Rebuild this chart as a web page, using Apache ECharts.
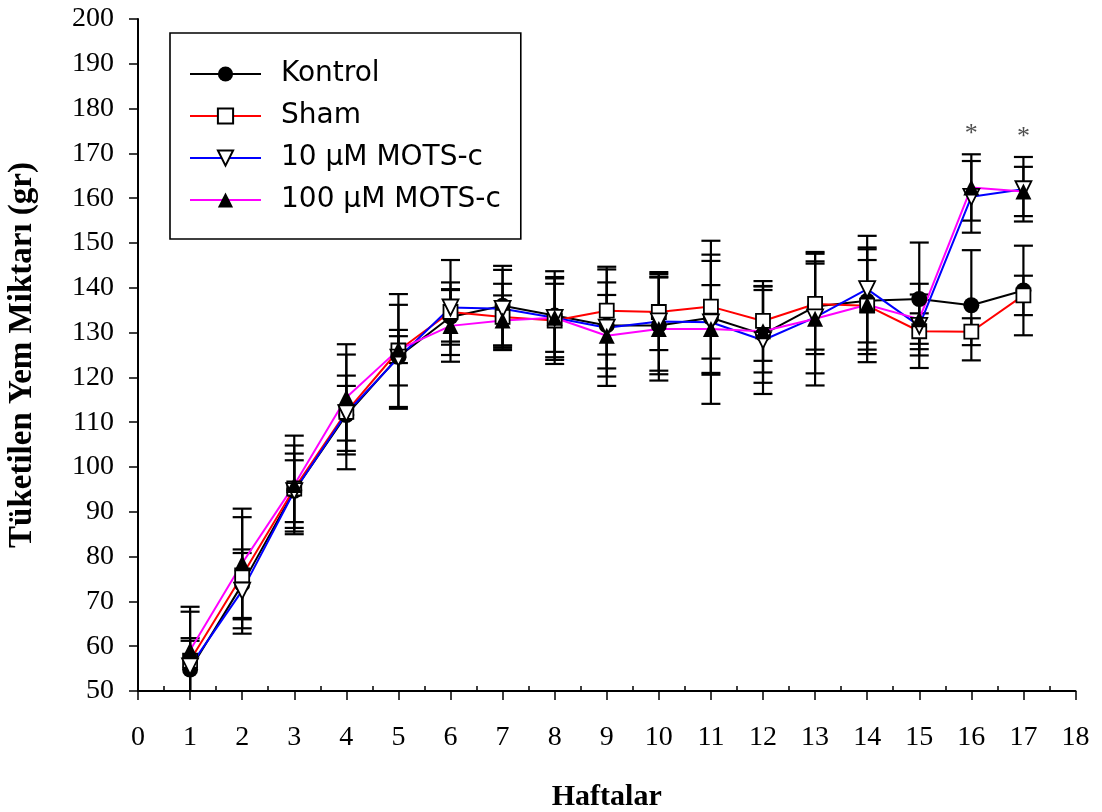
<!DOCTYPE html>
<html>
<head>
<meta charset="utf-8">
<script src="https://cdn.jsdelivr.net/npm/echarts@6/dist/echarts.min.js"></script>
<style>html,body{margin:0;padding:0;background:#fff}#c{width:1102px;height:812px}</style>
</head>
<body>
<div id="c"></div>
<script>
const weeks = [1,2,3,4,5,6,7,8,9,10,11,12,13,14,15,16,17];
const seriesNames = ['Kontrol', 'Sham', '10 µM MOTS-c', '100 µM MOTS-c'];
const kontrol    = [54.8, 73.8, 94.7, 111.6, 124.6, 133.5, 136.0, 133.8, 131.6, 131.6, 133.3, 129.6, 135.8, 137.1, 137.5, 136.1, 139.4];
const kontrolErr = [7.0, 7.8, 8.3, 8.8, 11.6, 6.2, 8.9, 9.9, 9.6, 10.9, 12.7, 10.8, 9.6, 11.9, 12.6, 12.3, 10.0];
const sham       = [56.8, 75.8, 95.2, 112.3, 126.0, 134.6, 133.5, 132.7, 134.9, 134.6, 135.8, 132.6, 136.4, 136.0, 130.3, 130.2, 138.3];
const shamErr    = [10.9, 13.0, 9.6, 12.8, 12.6, 6.6, 7.4, 9.7, 9.8, 8.5, 11.6, 8.9, 11.2, 12.6, 4.0, 3.0, 4.4];
const mots10     = [55.5, 72.4, 94.6, 112.0, 124.4, 135.6, 135.3, 133.3, 131.1, 132.5, 132.3, 128.3, 133.4, 139.7, 131.5, 160.3, 162.0];
const mots10Err  = [5.7, 8.4, 6.9, 6.1, 6.2, 10.6, 8.7, 7.6, 13.0, 11.0, 18.2, 12.0, 12.5, 11.9, 9.4, 8.0, 7.2];
const mots100    = [59.1, 78.5, 96.0, 115.5, 126.2, 131.5, 132.7, 133.3, 129.3, 130.8, 130.8, 130.3, 133.1, 136.2, 133.0, 162.4, 161.5];
const mots100Err = [9.7, 12.2, 11.0, 11.9, 3.0, 8.0, 5.6, 8.8, 9.1, 11.5, 9.8, 9.2, 14.9, 10.0, 5.5, 7.4, 5.5];
const asteriskWeeks = [16, 17];
const asteriskY = [174.3, 173.6];
const xTicks = [0,1,2,3,4,5,6,7,8,9,10,11,12,13,14,15,16,17,18];
const xMinorTicks = [0.5,1.5,2.5,3.5,4.5,5.5,6.5,7.5,8.5,9.5,10.5,11.5,12.5,13.5,14.5,15.5,16.5,17.5];
const yMin = 50, yMax = 200, yStep = 10;

const means = [kontrol, sham, mots10, mots100];
const errs = [kontrolErr, shamErr, mots10Err, mots100Err];
const lineColors = ['#000000', '#ff0000', '#0000ff', '#ff00ff'];
const symbols = ['circle', 'rect', 'triangle', 'triangle'];
const symbolSizes = [16, 14, 16, 16];
const symbolRot = [0, 0, 180, 0];
const fills = ['#000000', '#ffffff', '#ffffff', '#000000'];

const serif = 'Liberation Serif';
const chart = echarts.init(document.getElementById('c'), null, {renderer: 'canvas'});

const errSeries = means.map((m, si) => ({
  type: 'custom',
  name: 'err' + si,
  z: 1,
  silent: true,
  clip: false,
  encode: {x: 0, y: 1},
  data: weeks.map((w, i) => [w, m[i], errs[si][i]]),
  renderItem: function (params, api) {
    const x = api.value(0), v = api.value(1), e = api.value(2);
    const lo = Math.max(v - e, yMin);
    const pTop = api.coord([x, v + e]);
    const pBot = api.coord([x, lo]);
    const hw = 9.5;
    const st = {stroke: '#000', lineWidth: 2.2};
    const children = [
      {type: 'line', shape: {x1: pTop[0], y1: pTop[1], x2: pBot[0], y2: pBot[1]}, style: st},
      {type: 'line', shape: {x1: pTop[0] - hw, y1: pTop[1], x2: pTop[0] + hw, y2: pTop[1]}, style: st}
    ];
    if (v - e >= yMin) {
      children.push({type: 'line', shape: {x1: pBot[0] - hw, y1: pBot[1], x2: pBot[0] + hw, y2: pBot[1]}, style: st});
    }
    return {type: 'group', children: children};
  }
}));

const lineSeries = means.map((m, si) => ({
  type: 'line',
  name: seriesNames[si],
  z: 3,
  data: weeks.map((w, i) => [w, m[i]]),
  symbol: symbols[si],
  symbolSize: symbolSizes[si],
  symbolRotate: symbolRot[si],
  showAllSymbol: true,
  lineStyle: {color: lineColors[si], width: 2},
  itemStyle: {color: fills[si], borderColor: '#000', borderWidth: si === 1 || si === 2 ? 1.8 : 0},
  emphasis: {disabled: true},
  animation: false
}));

const option = {
  animation: false,
  backgroundColor: '#fff',
  grid: {left: 138, right: 26.5, top: 19, bottom: 121, containLabel: false, outerBoundsMode: 'none'},
  legend: {
    data: seriesNames,
    orient: 'vertical',
    left: 170,
    top: 33,
    padding: [27, 20, 25, 19],
    itemWidth: 71,
    itemHeight: 19,
    itemGap: 14,
    borderColor: '#000',
    borderWidth: 1.6,
    backgroundColor: '#fff',
    selectedMode: false,
    textStyle: {fontFamily: 'DejaVu Sans', fontSize: 28, color: '#000', padding: [0, 0, 0, 15]}
  },
  xAxis: [{
    type: 'value', min: 0, max: 18, interval: 1,
    axisLine: {show: true, onZero: false, lineStyle: {color: '#000', width: 2}},
    axisTick: {show: true, length: 9, lineStyle: {color: '#000', width: 1.5}},
    splitLine: {show: false},
    axisLabel: {color: '#000', fontFamily: serif, fontSize: 28, margin: 33, customValues: xTicks},
    name: 'Haftalar', nameLocation: 'middle', nameGap: 91,
    nameTextStyle: {fontFamily: serif, fontWeight: 'bold', fontSize: 30, color: '#000'}
  }, {
    type: 'value', min: 0, max: 18, position: 'bottom',
    axisLine: {show: false, onZero: false},
    axisTick: {show: true, inside: true, length: 5, customValues: xMinorTicks, lineStyle: {color: '#000', width: 1.5}},
    axisLabel: {show: false},
    splitLine: {show: false}
  }],
  yAxis: {
    type: 'value', min: yMin, max: yMax, interval: yStep,
    axisLine: {show: true, onZero: false, lineStyle: {color: '#000', width: 2}},
    axisTick: {show: true, length: 9, lineStyle: {color: '#000', width: 1.5}},
    splitLine: {show: false},
    axisLabel: {color: '#000', fontFamily: serif, fontSize: 28, margin: 24},
    name: 'Tüketilen Yem Miktarı (gr)', nameLocation: 'middle', nameGap: 99,
    nameTextStyle: {fontFamily: serif, fontWeight: 'bold', fontSize: 33, color: '#000'}
  },
  series: errSeries.concat(lineSeries).concat([{
    type: 'scatter',
    name: 'sig',
    z: 4,
    silent: true,
    symbolSize: 1,
    itemStyle: {color: 'rgba(0,0,0,0)'},
    data: asteriskWeeks.map((w, i) => [w, asteriskY[i]]),
    label: {show: true, position: 'inside', formatter: '*', fontFamily: serif, fontSize: 26, color: '#222'}
  }])
};
chart.setOption(option);
</script>
</body>
</html>
